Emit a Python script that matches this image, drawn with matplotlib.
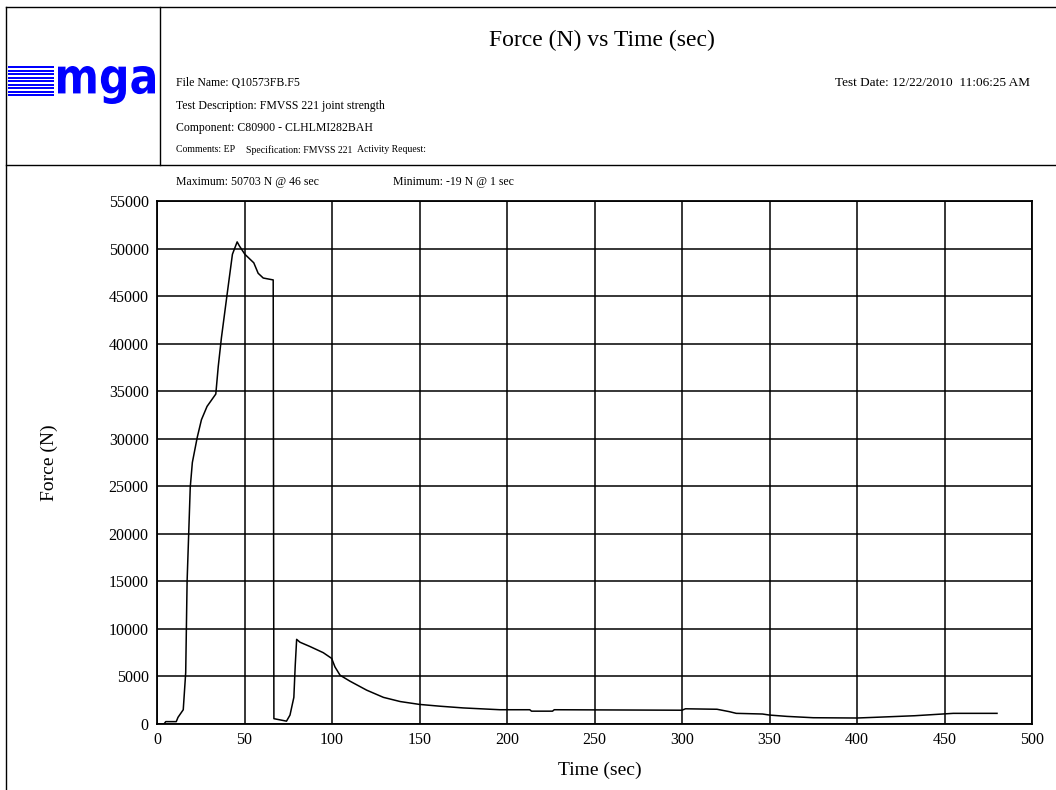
import numpy as np
import matplotlib.pyplot as plt
from matplotlib.textpath import TextPath
from matplotlib.font_manager import FontProperties
from matplotlib.patches import PathPatch, Rectangle
from matplotlib.transforms import Affine2D

# dados (tempo em s, força em N)
time_s = [0, 4, 5, 11, 12, 15, 16.4, 17.2, 19, 20.2, 23, 25.4, 28.6, 33.6, 35, 36.8,
          40, 43.1, 45.8, 47, 50.2, 55.3, 57.8, 60.7, 66.4, 66.8, 74, 76, 78.2, 79,
          79.8, 81.7, 87.4, 95, 99.8, 101.7, 104.6, 110.3, 119.8, 129.4, 139, 150,
          161.8, 175, 196, 213, 214, 226, 227, 300, 302, 320, 327, 331, 346, 350,
          360, 375, 400, 410, 433, 455, 480]
force_n = [0, 0, 250, 250, 700, 1500, 5400, 15000, 24900, 27500, 30150, 32000, 33400,
           34700, 37600, 40600, 45100, 49400, 50700, 50300, 49400, 48500, 47400, 46900,
           46700, 560, 300, 940, 2800, 6200, 8900, 8600, 8150, 7500, 6900, 6000, 5130,
           4500, 3560, 2800, 2360, 2060, 1870, 1690, 1500, 1500, 1350, 1350, 1500, 1450,
           1600, 1550, 1300, 1120, 1050, 940, 800, 660, 630, 700, 870, 1120, 1120]

x_ticks = [0, 50, 100, 150, 200, 250, 300, 350, 400, 450, 500]
y_ticks = [0, 5000, 10000, 15000, 20000, 25000, 30000, 35000, 40000, 45000, 50000, 55000]

header_lines = ["File Name: Q10573FB.F5",
                "Test Description: FMVSS 221 joint strength",
                "Component: C80900 - CLHLMI282BAH"]
comment_parts = ["Comments: EP", "Specification: FMVSS 221", "Activity Request:"]
comment_x = [176, 246, 357]
test_date = "Test Date: 12/22/2010  11:06:25 AM"
max_text = "Maximum: 50703 N @ 46 sec"
min_text = "Minimum: -19 N @ 1 sec"

serif = "Liberation Serif"
W, H = 1056, 790

fig = plt.figure(figsize=(W / 100, H / 100), dpi=100)

# camada de fundo em coordenadas de pixel
bg = fig.add_axes([0, 0, 1, 1])
bg.set_xlim(0, W)
bg.set_ylim(H, 0)
bg.axis("off")

# moldura do cabeçalho
bg.plot([5.5, 5.5], [7, H], color="black", lw=1.0)
bg.plot([5.5, W], [7, 7], color="black", lw=1.0)
bg.plot([159.5, 159.5], [7, 165], color="black", lw=1.0)
bg.plot([5.5, W], [165, 165], color="black", lw=1.0)

# logotipo
blue = "#0000ff"
for i in range(9):
    bg.add_patch(Rectangle((8, 66 + i * 3.5), 46, 2.2, color=blue, lw=0))
tp = TextPath((0, 0), "mga", prop=FontProperties(family="DejaVu Sans", weight="bold"))
ext = tp.get_extents()
sx = (155 - 58) / ext.width
sy = (104 - 66) / ext.height
tr = Affine2D().translate(-ext.x0, -ext.y0).scale(sx, -sy).translate(58, 104)
bg.add_patch(PathPatch(tr.transform_path(tp), color=blue, lw=0))

# textos do cabeçalho
bg.text(602, 40, "Force (N) vs Time (sec)", family=serif, fontsize=17,
        ha="center", va="center")
for i, line in enumerate(header_lines):
    bg.text(176, 83 + i * 22.5, line, family=serif, fontsize=8.5, ha="left", va="center")
for part, px in zip(comment_parts, comment_x):
    bg.text(px, 150, part, family=serif, fontsize=7.0, ha="left", va="center")
bg.text(1030, 83, test_date, family=serif, fontsize=9.5, ha="right", va="center")
bg.text(176, 182, max_text, family=serif, fontsize=8.5, ha="left", va="center")
bg.text(393, 182, min_text, family=serif, fontsize=8.5, ha="left", va="center")

# gráfico principal
ax = fig.add_axes([157 / W, 1 - 724 / H, (1032 - 157) / W, (724 - 201) / H])
ax.plot(time_s, force_n, color="black", lw=1.1)
ax.set_xlim(0, 500)
ax.set_ylim(0, 55000)
ax.set_xticks(x_ticks)
ax.set_yticks(y_ticks)
ax.grid(True, color="black", lw=1.1)
ax.tick_params(length=0, labelsize=11.5, pad=6)
for lab in ax.get_xticklabels() + ax.get_yticklabels():
    lab.set_family(serif)
for s in ax.spines.values():
    s.set_linewidth(1.3)
ax.set_xlabel("Time (sec)", family=serif, fontsize=14)
ax.set_ylabel("Force (N)", family=serif, fontsize=14)
ax.xaxis.set_label_coords((600 - 157) / 875, (724 - 762) / 523)
ax.yaxis.set_label_coords((58 - 157) / 875, 0.5)

fig.savefig("out.png", dpi=100)
